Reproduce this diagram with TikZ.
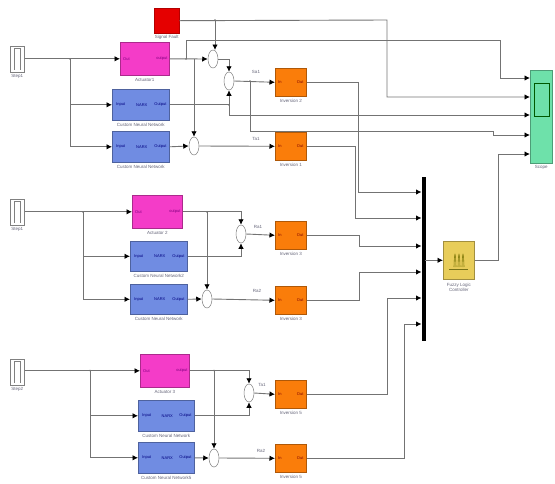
\documentclass[tikz,border=0pt]{standalone}
\usepackage{fontspec}
\setmainfont{Liberation Sans}
\usetikzlibrary{arrows.meta,shapes.geometric}
\definecolor{wirec}{RGB}{115,115,115}
\definecolor{actc}{RGB}{244,60,200}
\definecolor{nnc}{RGB}{112,140,226}
\definecolor{invc}{RGB}{250,125,10}
\definecolor{fuzc}{RGB}{232,205,90}
\definecolor{scopec}{RGB}{110,225,170}
\definecolor{labc}{RGB}{100,100,120}
\tikzset{
 wire/.style={draw=wirec,line width=0.9pt},
 sig/.style={wire,-{Latex[length=5.5pt,width=5.5pt,black]}},
 block/.style={draw=#1!70!black,fill=#1,line width=0.6pt,inner sep=0pt,minimum width=0pt},
 stepblk/.style={draw=gray,fill=white,line width=0.6pt,inner sep=0pt},
 sumn/.style={ellipse,draw=gray,fill=white,line width=0.5pt,inner sep=0pt,minimum width=10pt,minimum height=18pt},
 lab/.style={font=\fontsize{4.5}{5}\selectfont,text=labc,align=center,inner sep=0pt},
 port/.style={font=\fontsize{4}{4}\selectfont,text=blue!50!black,inner sep=0pt},
 jn/.style={circle,fill=wirec,inner sep=0pt,minimum size=1.8pt}
}
\newcommand{\blk}[6]{% name, colour, x1,y1,x2,y2
 \node[block=#2,minimum width={(#5-#3)*1pt},minimum height={(#6-#4)*1pt},anchor=north west] (#1) at (#3,#4) {};}
\begin{document}
\begin{tikzpicture}[x=1pt,y=-1pt]
\useasboundingbox (0,0) rectangle (555,483);
% step sources
\foreach \n/\y in {stepA/46,stepB/199,stepC/359}{
 \node[stepblk,minimum width=14pt,minimum height=26pt,anchor=north west] (\n) at (10,\y) {};
 \draw[gray,line width=.5pt] (\n.north west)++(4,2) -- ++(0,22) (\n.north west)++(4,2) -- ++(6,0) -- ++(0,22);
}
\node[lab,below=1.5pt] at (stepA.south) {Step1};
\node[lab,below=1.5pt] at (stepB.south) {Step1};
\node[lab,below=1.5pt] at (stepC.south) {Step2};
% blocks
\blk{actA}{actc}{120}{42}{169}{75}
\blk{actB}{actc}{132}{195}{182}{228}
\blk{actC}{actc}{140}{354}{189}{387}
\blk{nnA}{nnc}{112}{89}{169}{120}
\blk{nnB}{nnc}{112}{131}{169}{162}
\blk{nnC}{nnc}{130}{241}{187}{271}
\blk{nnD}{nnc}{130}{284}{187}{314}
\blk{nnE}{nnc}{138}{400}{194}{431}
\blk{nnF}{nnc}{138}{442}{194}{473}
\blk{invA}{invc}{275}{68}{306}{96}
\blk{invB}{invc}{275}{132}{306}{160}
\blk{invC}{invc}{275}{221}{306}{249}
\blk{invD}{invc}{275}{286}{306}{314}
\blk{invE}{invc}{275}{380}{306}{408}
\blk{invF}{invc}{275}{444}{306}{472}
\blk{fuz}{fuzc}{443}{241}{474}{279}
\blk{sco}{scopec}{530}{70}{552}{163}
\node[draw=red!70!black,fill=red!90!black,minimum width=25pt,minimum height=25pt,inner sep=0pt,anchor=north west] (fault) at (154,8) {};
\node[draw=black,fill=black,minimum width=3pt,minimum height=163pt,inner sep=0pt,anchor=north west] (bus) at (421.5,177) {};
% scope screen
\node[draw=green!35!black,fill=scopec,line width=.5pt,minimum width=15pt,minimum height=33pt,inner sep=0pt,anchor=north west] (screen) at (534,83) {};
% fuzzy icon
\draw[olive!80!black,line width=.7pt] (449,269) -- (468,269);
\foreach \x in {454,458,462}{\draw[olive!90!black,line width=.6pt] (\x,267) .. controls (\x+.5,250) and (\x+1.5,250) .. (\x+2,267);}
% sums
\node[sumn] (sA) at (213,59) {};
\node[sumn] (sB) at (229,81) {};
\node[sumn] (sC) at (194,146) {};
\node[sumn] (sD) at (241,234) {};
\node[sumn] (sE) at (207,299) {};
\node[sumn] (sF) at (249,393) {};
\node[sumn] (sG) at (214,458) {};
% port and label texts
\foreach \n in {nnA,nnB,nnC,nnD,nnE,nnF}{
 \node[port,anchor=west] at ([xshift=4pt]\n.west) {Input};
 \node[port] at ([xshift=1pt]\n.center) {NARX};
 \node[port,anchor=east] at ([xshift=-3pt]\n.east) {Output};
}
\foreach \n in {actA,actB,actC}{
 \node[port,anchor=west,text=violet] at ([xshift=3pt]\n.west) {Out};
 \node[port,anchor=east,text=violet] at ([xshift=-2pt]\n.east) {output};
}
\foreach \n in {invA,invB,invC,invD,invE,invF}{
 \node[port,anchor=west,text=red!50!black] at ([xshift=3pt]\n.west) {In};
 \node[port,anchor=east,text=red!50!black] at ([xshift=-3pt]\n.east) {Out};
}
\node[lab,below=2pt] at (fault.south) {Signal Fault};
\node[lab,below=3pt] at (actA.south) {Actuator1};
\node[lab,below=3pt] at (actB.south) {Actuator 2};
\node[lab,below=3pt] at (actC.south) {Actuator 3};
\node[lab,below=2pt] at (nnA.south) {Custom Neural Network};
\node[lab,below=2pt] at (nnB.south) {Custom Neural Network};
\node[lab,below=2pt] at (nnC.south) {Custom Neural Network2};
\node[lab,below=2pt] at (nnD.south) {Custom Neural Network};
\node[lab,below=2pt] at (nnE.south) {Custom Neural Network};
\node[lab,below=2pt] at (nnF.south) {Custom Neural Network5};
\node[lab,below=2pt] at (invA.south) {Inversion 2};
\node[lab,below=2pt] at (invB.south) {Inversion 1};
\node[lab,below=2pt] at (invC.south) {Inversion 3};
\node[lab,below=2pt] at (invD.south) {Inversion 3};
\node[lab,below=2pt] at (invE.south) {Inversion 5};
\node[lab,below=2pt] at (invF.south) {Inversion 5};
\node[lab,below=3pt] at (fuz.south) {Fuzzy Logic\\Controller};
\node[lab,below=2pt] at (sco.south) {Scope};
\node[lab] at (256,72) {Sa1};
\node[lab] at (256,139) {Ta1};
\node[lab] at (258,227) {Ra1};
\node[lab] at (257,291) {Ra2};
\node[lab] at (262,385) {Ta1};
\node[lab] at (261,451) {Ra2};
% connectors: group 1
\draw[sig] (stepA.east |- actA.west) -- (actA.west);
\coordinate (j1) at (70,59);
\draw[sig] (j1) |- (nnA.west);
\draw[sig] (j1) |- (nnB.west);
\node[jn] at (j1) {};
\draw[sig] (actA.east) -- (sA.west);
\draw[sig] (nnB.east) -- (sC.west);
\coordinate (j2) at (186,59);
\coordinate (t2) at (500,40);
\draw[sig] (j2) |- (t2) |- (530,78);
\node[jn] at (j2) {};
\coordinate (j3) at (194,59);
\draw[sig] (j3) -- (sC.north);
\coordinate (t3) at (387,20);
\draw[sig] (fault.east) -- (t3) |- (530,97);
\coordinate (j4) at (215,20);
\draw[sig] (j4) -- (215,50);
\node[jn] at (j4) {};
\draw[sig] (sA.east) -| (sB.north);
\draw[sig] (nnA.east) -| (sB.south);
\coordinate (j5) at (229,105);
\draw[sig] (j5) |- (530,115);
\node[jn] at (j5) {};
\draw[sig] (sB.east) -- (invA.west);
\coordinate (j6) at (250,81);
\draw[sig] (j6) |- (493,131) |- (530,135);
\node[jn] at (j6) {};
\draw[sig] (sC.east) -- (invB.west);
% to bus
\draw[sig] (invA.east) -| (358,192) -- (bus.west |- 358,192);
\draw[sig] (invB.east) -| (355,218) -- (bus.west |- 355,218);
\draw[sig] (invC.east) -| (359,246) -- (bus.west |- 359,246);
\draw[sig] (invD.east) -| (359,272) -- (bus.west |- 359,272);
\draw[sig] (invE.east) -| (387,298) -- (bus.west |- 387,298);
\draw[sig] (invF.east) -| (404,324) -- (bus.west |- 404,324);
\draw[sig] (bus.east |- fuz.west) -- (fuz.west);
\draw[sig] (fuz.east) -| (498,154) -- (530,154);
% group 2
\draw[sig] (stepB.east |- actB.west) -- (actB.west);
\coordinate (k1) at (83,212);
\draw[sig] (k1) |- (nnC.west);
\draw[sig] (k1) |- (nnD.west);
\node[jn] at (k1) {};
\draw[sig] (actB.east) -| (sD.north);
\draw[sig] (nnC.east) -| (sD.south);
\coordinate (k2) at (207,212);
\draw[sig] (k2) -- (sE.north);
\node[jn] at (k2) {};
\draw[sig] (nnD.east) -- (sE.west);
\draw[sig] (sD.east) -- (invC.west);
\draw[sig] (sE.east) -- (invD.west);
% group 3
\draw[sig] (stepC.east |- actC.west) -- (actC.west);
\coordinate (m1) at (90,370.5);
\draw[sig] (m1) |- (nnE.west);
\draw[sig] (m1) |- (nnF.west);
\node[jn] at (m1) {};
\draw[sig] (actC.east) -| (sF.north);
\draw[sig] (nnE.east) -| (sF.south);
\coordinate (m2) at (214,370.5);
\draw[sig] (m2) -- (sG.north);
\node[jn] at (m2) {};
\draw[sig] (nnF.east) -- (sG.west);
\draw[sig] (sF.east) -- (invE.west);
\draw[sig] (sG.east) -- (invF.west);
\end{tikzpicture}
\end{document}
